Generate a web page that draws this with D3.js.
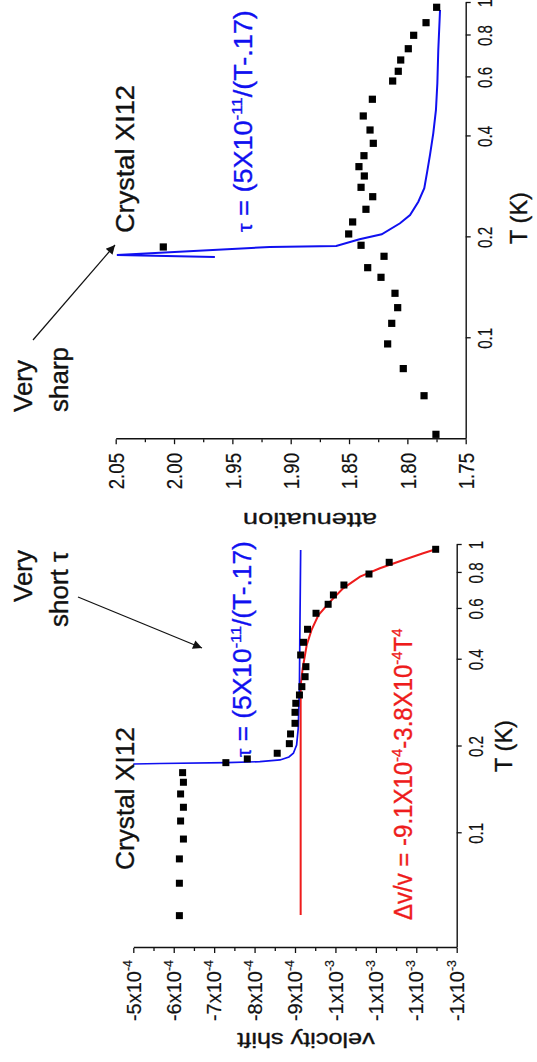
<!DOCTYPE html>
<html><head><meta charset="utf-8">
<script src="https://cdn.jsdelivr.net/npm/d3@7"></script>
<style>
html,body{margin:0;padding:0;background:#fff;}
svg{display:block;}
text{font-family:"Liberation Sans",Arial,sans-serif;}
</style></head><body>
<svg id="chart" width="537" height="1062"></svg>
<script>
// ---------- data ----------
const velT = [0.0518,0.0671,0.0815,0.0955,0.1103,0.1231,0.1369,0.1503,0.1623,0.1758,0.1811,0.1895,0.2046,0.2211,0.2407,0.2628,0.2824,0.3018,0.3226,0.3493,0.3784,0.4154,0.4597,0.5101,0.5797,0.6228,0.6709,0.7265,0.7932,0.8710,0.9663];
const velV = [-6.14e-4,-6.14e-4,-6.14e-4,-6.24e-4,-6.17e-4,-6.24e-4,-6.17e-4,-6.24e-4,-6.22e-4,-7.29e-4,-7.82e-4,-8.56e-4,-8.86e-4,-8.89e-4,-9.00e-4,-9.00e-4,-9.02e-4,-9.11e-4,-9.17e-4,-9.25e-4,-9.27e-4,-9.14e-4,-9.21e-4,-9.31e-4,-9.52e-4,-9.82e-4,-9.95e-4,-1.021e-3,-1.083e-3,-1.133e-3,-1.248e-3];
const velBlueT = [0.1739,0.1746,0.1758,0.1772,0.1796,0.1840,0.1895,0.2024,0.2313,0.3269,0.4874,0.9610];
const velBlueV = [-5.0e-4,-5.66e-4,-7.31e-4,-8.13e-4,-8.63e-4,-8.85e-4,-8.96e-4,-9.04e-4,-9.08e-4,-9.11e-4,-9.12e-4,-9.14e-4];
const velRedT = [0.0521,0.3269,0.3734,0.4500,0.5074,0.5718,0.6359,0.7075,0.7763,0.8302,0.8872,0.9358,0.9685];
const velRedV = [-9.14e-4,-9.14e-4,-9.19e-4,-9.29e-4,-9.41e-4,-9.58e-4,-9.87e-4,-1.019e-3,-1.061e-3,-1.110e-3,-1.168e-3,-1.217e-3,-1.250e-3];

const attT = [0.0517,0.0674,0.0812,0.0962,0.1108,0.1234,0.1362,0.1520,0.1624,0.1756,0.1872,0.1894,0.2047,0.2223,0.2425,0.2644,0.2820,0.3048,0.3250,0.3504,0.3815,0.4180,0.4603,0.5163,0.5852,0.6257,0.6761,0.7305,0.8011,0.8736,0.9710];
const attA = [1.7755,1.7857,1.8035,1.8169,1.8134,1.8083,1.8106,1.8226,1.834,1.82,2.0092,1.8397,1.8503,1.8469,1.8355,1.8297,1.8397,1.8369,1.8415,1.8372,1.8292,1.832,1.8378,1.830,1.8126,1.8078,1.8057,1.7992,1.7946,1.784,1.7749];
const attBlueT = [0.1748,0.1772,0.1872,0.1885,0.1973,0.2042,0.2203,0.2332,0.2555,0.2802,0.3140,0.3522,0.4087,0.4797,0.5761,0.7242,0.9531];
const attBlueA = [1.965,2.049,1.918,1.861,1.841,1.822,1.8063,1.7977,1.7906,1.7855,1.783,1.7806,1.7778,1.7755,1.7743,1.7735,1.772];

const tTicks = [0.1,0.2,0.4,0.6,0.8,1];
const tTickLabels = ["0.1","0.2","0.4","0.6","0.8","1"];
const velTicks = [-5e-4,-6e-4,-7e-4,-8e-4,-9e-4,-1.0e-3,-1.1e-3,-1.2e-3,-1.3e-3];
const velMinor = [-5.5e-4,-6.5e-4,-7.5e-4,-8.5e-4,-9.5e-4,-1.05e-3,-1.15e-3,-1.25e-3];
const velTickBase = ["-5x10","-6x10","-7x10","-8x10","-9x10","-1x10","-1x10","-1x10","-1x10"];
const velTickExp = ["-4","-4","-4","-4","-4","-3","-3","-3","-3"];
const attTicks = [2.05,2.00,1.95,1.90,1.85,1.80,1.75];
const attMinor = [2.025,1.975,1.925,1.875,1.825,1.775];
const attTickLabels = ["2.05","2.00","1.95","1.90","1.85","1.80","1.75"];

// ---------- setup ----------
const BLUE = "#1010f0", RED = "#ee1c1c", INK = "#111";
const svg = d3.select("#chart");
svg.append("rect").attr("width",537).attr("height",1062).attr("fill","#fff");
// figure drawn in landscape coordinates, then turned a quarter-turn counter-clockwise
const g = svg.append("g").attr("transform","translate(0,1062) rotate(-90)");

const defs = svg.append("defs");
defs.append("marker").attr("id","ah").attr("viewBox","0 0 10 10").attr("refX",10).attr("refY",5)
  .attr("markerWidth",11).attr("markerHeight",9).attr("markerUnits","userSpaceOnUse").attr("orient","auto")
  .append("path").attr("d","M0,0L10,5L0,10z").attr("fill",INK);

function addText(parent, x, y, parts, o) {
  const size = o.size, anchor = o.anchor || "start";
  const col = o.fill || INK;
  const wrap = parent.append("g");
  const t = wrap.append("text").attr("x",0).attr("y",0).attr("font-size",size)
    .attr("text-anchor",anchor).attr("fill",col)
    .attr("stroke",col).attr("stroke-width",o.sw == null ? 0.35 : o.sw).attr("stroke-linejoin","round");
  let raised = false;
  parts.forEach(p => {
    const ts = t.append("tspan").text(p.t);
    if (p.small) ts.attr("font-size", size*0.8);
    if (p.sup && !raised) { ts.attr("font-size", size*0.62).attr("dy", -size*0.42); raised = true; }
    else if (!p.sup && raised) { ts.attr("dy", size*0.42); raised = false; }
    else if (p.sup) ts.attr("font-size", size*0.62);
  });
  let sx = o.sx || 1;
  if (o.fit) { const w = t.node().getBBox().width; sx = o.fit / w; }
  const rot = o.rot ? ` rotate(${o.rot})` : "";
  wrap.attr("transform", `translate(${x},${y})${rot} scale(${sx},${o.sy||1})`);
  return wrap;
}

function styleAxis(sel) {
  sel.selectAll("path.domain").attr("stroke",INK).attr("stroke-width",1.4);
  sel.selectAll(".tick line").attr("stroke",INK).attr("stroke-width",1.3);
  sel.selectAll(".tick text").remove();
}

// ---------- left panel: velocity shift ----------
const xL = d3.scaleLog().domain([0.04,1]).range([114,517]);
const yL = d3.scaleLinear().domain([-1.3e-3,-5e-4]).range([456.7,133.3]);
const pL = g.append("g");
pL.append("g").attr("transform","translate(0,456.7)")
  .call(d3.axisBottom(xL).tickValues(tTicks).tickFormat("").tickSize(5).tickSizeOuter(0)).call(styleAxis);
pL.append("g").attr("transform","translate(114,0)")
  .call(d3.axisLeft(yL).tickValues(velTicks).tickFormat("").tickSize(5).tickSizeOuter(0)).call(styleAxis);
pL.append("g").attr("transform","translate(114,0)")
  .call(d3.axisLeft(yL).tickValues(velMinor).tickFormat("").tickSize(3).tickSizeOuter(0)).call(styleAxis)
  .select("path.domain").remove();

const lineL = d3.line().x(d=>xL(d[0])).y(d=>yL(d[1]));
pL.append("path").datum(velRedT.map((t,i)=>[t,velRedV[i]])).attr("d",lineL)
  .attr("fill","none").attr("stroke",RED).attr("stroke-width",2);
pL.append("path").datum(velBlueT.map((t,i)=>[t,velBlueV[i]])).attr("d",lineL)
  .attr("fill","none").attr("stroke",BLUE).attr("stroke-width",1.7);
pL.selectAll("rect.pt").data(velT.map((t,i)=>[t,velV[i]])).join("rect").attr("class","pt")
  .attr("x",d=>xL(d[0])-3.5).attr("y",d=>yL(d[1])-3.5).attr("width",7).attr("height",7).attr("fill","#000");

tTicks.forEach((t,i)=>addText(pL, xL(t), 483, [{t:tTickLabels[i]}], {size:20, anchor:"middle", sx:0.76, sw:0.2}));
velTicks.forEach((v,i)=>addText(pL, 102, yL(v)+7.2, [{t:velTickBase[i]},{t:velTickExp[i],sup:true}], {size:20, anchor:"end", sw:0.2}));
addText(pL, 316, 512, [{t:"T (K)"}], {size:23, anchor:"middle", fit:52});
addText(pL, 29, 306, [{t:"velocity shift"}], {size:20, anchor:"middle", rot:-90, fit:138});

addText(pL, 192, 134, [{t:"Crystal XI12"}], {size:25, fit:143});
addText(pL, 305, 251, [{t:"τ",small:true},{t:" = (5X10"},{t:"-11",sup:true},{t:"/(T-.17)"}], {size:25, fill:BLUE, fit:216});
addText(pL, 142, 412, [{t:"Δv/v = -9.1X10"},{t:"-4",sup:true},{t:"-3.8X10"},{t:"-4",sup:true},{t:"T"},{t:"4",sup:true}], {size:25, fill:RED, fit:292});
addText(pL, 460, 32, [{t:"Very"}], {size:26});
addText(pL, 435, 68, [{t:"short τ"}], {size:26});
pL.append("line").attr("x1",465).attr("y1",78).attr("x2",414).attr("y2",202)
  .attr("stroke",INK).attr("stroke-width",1.2).attr("marker-end","url(#ah)");

// ---------- right panel: attenuation ----------
const xR = d3.scaleLog().domain([0.05,1]).range([622.8,1059]);
const yR = d3.scaleLinear().domain([1.75,2.05]).range([465.7,115.7]);
const pR = g.append("g");
pR.append("g").attr("transform","translate(0,465.7)")
  .call(d3.axisBottom(xR).tickValues(tTicks).tickFormat("").tickSize(5).tickSizeOuter(0)).call(styleAxis);
pR.append("g").attr("transform","translate(622.8,0)")
  .call(d3.axisLeft(yR).tickValues(attTicks).tickFormat("").tickSize(5).tickSizeOuter(0)).call(styleAxis);
pR.append("g").attr("transform","translate(622.8,0)")
  .call(d3.axisLeft(yR).tickValues(attMinor).tickFormat("").tickSize(3).tickSizeOuter(0)).call(styleAxis)
  .select("path.domain").remove();

const lineR = d3.line().x(d=>xR(d[0])).y(d=>yR(d[1]));
pR.append("path").datum(attBlueT.map((t,i)=>[t,attBlueA[i]])).attr("d",lineR)
  .attr("fill","none").attr("stroke",BLUE).attr("stroke-width",2);
pR.selectAll("rect.pt").data(attT.map((t,i)=>[t,attA[i]])).join("rect").attr("class","pt")
  .attr("x",d=>xR(d[0])-3.6).attr("y",d=>yR(d[1])-3.6).attr("width",7.2).attr("height",7.2).attr("fill","#000");

tTicks.forEach((t,i)=>addText(pR, xR(t), 492, [{t:tTickLabels[i]}], {size:20, anchor:"middle", sx:0.76, sw:0.2}));
attTicks.forEach((a,i)=>addText(pR, 609, yR(a)+8.3, [{t:attTickLabels[i]}], {size:23, anchor:"end", sx:0.81, sw:0.2}));
addText(pR, 844, 527, [{t:"T (K)"}], {size:23, anchor:"middle", fit:52});
addText(pR, 549, 310, [{t:"attenuation"}], {size:21, anchor:"middle", rot:-90, fit:134});

addText(pR, 829, 134, [{t:"Crystal XI12"}], {size:25, fit:148});
addText(pR, 830, 252, [{t:"τ",small:true},{t:" = (5X10"},{t:"-11",sup:true},{t:"/(T-.17)"}], {size:25, fill:BLUE, fit:222});
addText(pR, 650, 32, [{t:"Very"}], {size:26});
addText(pR, 650, 68, [{t:"sharp"}], {size:26});
pR.append("line").attr("x1",722).attr("y1",33).attr("x2",817).attr("y2",115)
  .attr("stroke",INK).attr("stroke-width",1.2).attr("marker-end","url(#ah)");
</script>
</body></html>
